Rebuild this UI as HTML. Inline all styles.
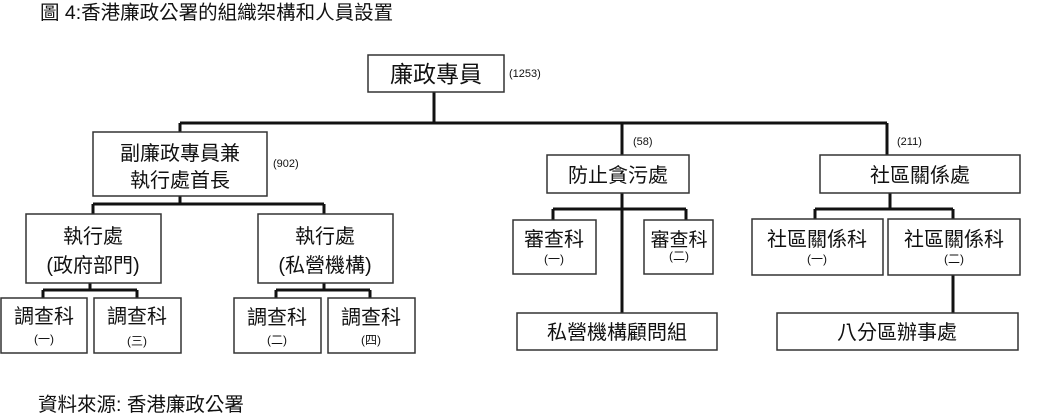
<!DOCTYPE html>
<html><head><meta charset="utf-8"><style>
html,body{margin:0;padding:0;background:#fff;width:1048px;height:414px;overflow:hidden}
svg text{font-family:"Liberation Sans","Noto Sans CJK TC",sans-serif;fill:#111}
</style></head><body>
<svg width="1048" height="414" xmlns="http://www.w3.org/2000/svg">
<text x="40" y="19" font-size="19.5">圖 4:香港廉政公署的組織架構和人員設置</text>
<text x="38" y="411" font-size="19.5">資料來源: 香港廉政公署</text>
<g stroke="#111" stroke-width="3" fill="none">
<path d="M434 92V123M180 123H887M180 123V132M622 123V155M887 123V155"/>
<path d="M180 196V204M93 204H324M93 204V214M324 204V214"/>
<path d="M90 283V290M43 290H137M43 290V298M137 290V298"/>
<path d="M324 283V290M276 290H370M276 290V298M370 290V298"/>
<path d="M622 193V313M553 209H686M553 209V220M686 209V220"/>
<path d="M890 193V209M815 209H953M815 209V219M953 209V219M953 275V313"/>
</g>
<g stroke="#333" stroke-width="1.5" fill="#fff">
<rect x="368" y="55" width="136" height="37"/>
<rect x="93" y="132" width="174" height="64"/>
<rect x="26" y="214" width="135" height="69"/>
<rect x="258" y="214" width="135" height="69"/>
<rect x="1" y="298" width="86" height="55"/>
<rect x="94" y="298" width="87" height="55"/>
<rect x="234" y="298" width="87" height="55"/>
<rect x="328" y="298" width="87" height="55"/>
<rect x="547" y="155" width="142" height="38"/>
<rect x="513" y="220" width="83" height="54"/>
<rect x="644" y="220" width="69" height="54"/>
<rect x="517" y="313" width="200" height="37"/>
<rect x="820" y="155" width="200" height="38"/>
<rect x="752" y="219" width="131" height="56"/>
<rect x="888" y="219" width="132" height="56"/>
<rect x="777" y="313" width="241" height="37"/>
</g>
<g text-anchor="middle">
<text x="436" y="82" font-size="23">廉政專員</text>
<text x="180" y="160" font-size="20">副廉政專員兼</text>
<text x="180" y="187" font-size="20">執行處首長</text>
<text x="93" y="243" font-size="20">執行處</text>
<text x="93" y="272" font-size="20">(政府部門)</text>
<text x="325" y="243" font-size="20">執行處</text>
<text x="325" y="272" font-size="20">(私營機構)</text>
<text x="44" y="323" font-size="20">調查科</text><text x="44" y="343" font-size="12">(一)</text>
<text x="137" y="323" font-size="20">調查科</text><text x="137" y="345" font-size="12">(三)</text>
<text x="277" y="324" font-size="20">調查科</text><text x="277" y="344" font-size="12">(二)</text>
<text x="371" y="324" font-size="20">調查科</text><text x="371" y="344" font-size="12">(四)</text>
<text x="618" y="182" font-size="20">防止貪污處</text>
<text x="554" y="246" font-size="20">審查科</text><text x="554" y="263" font-size="12">(一)</text>
<text x="679" y="246" font-size="19">審查科</text><text x="679" y="260" font-size="12">(二)</text>
<text x="617" y="339" font-size="20">私營機構顧問組</text>
<text x="920" y="182" font-size="20">社區關係處</text>
<text x="817" y="246" font-size="20">社區關係科</text><text x="817" y="263" font-size="12">(一)</text>
<text x="954" y="246" font-size="20">社區關係科</text><text x="954" y="263" font-size="12">(二)</text>
<text x="897" y="339" font-size="20">八分區辦事處</text>
</g>
<g font-size="11">
<text x="509" y="77">(1253)</text>
<text x="273" y="167">(902)</text>
<text x="633" y="145">(58)</text>
<text x="897" y="145">(211)</text>
</g>
</svg>
</body></html>
